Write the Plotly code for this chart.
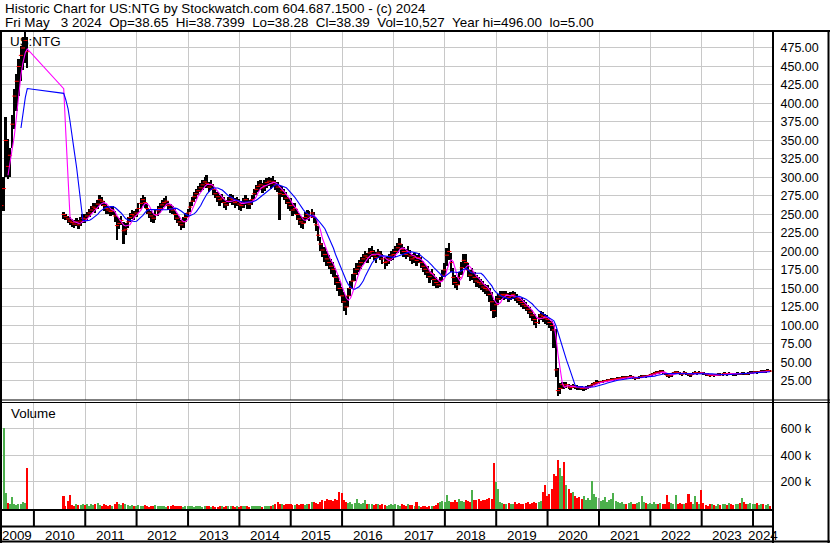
import pandas as pd
import plotly.graph_objects as go

# ---------------- text ----------------
title_line1 = "Historic Chart for US:NTG by Stockwatch.com 604.687.1500 - (c) 2024"
title_fields = ["Fri May   3 2024", "Op=38.65", "Hi=38.7399", "Lo=38.28", "Cl=38.39",
                "Vol=10,527", "Year hi=496.00", "lo=5.00"]
symbol_label = "US:NTG"
volume_label = "Volume"

# ---------------- data (semi-monthly bars) ----------------
seg1_dates = pd.date_range("2009-05-15", "2009-11-15", freq="SMS")
seg2_dates = pd.date_range("2010-08-01", "2024-05-01", freq="SMS")
dates = seg1_dates.append(seg2_dates)

close = [
    262, 285, 350, 315, 330, 372, 410, 430, 450, 465, 475, 485, 470,  # 2009
    250, 247, 244, 241, 239, 237, 240, 236, 241, 245,  # 2010
    244, 248, 252, 256, 260, 258, 264, 270, 268, 262, 258, 256, 254, 256, 248, 235, 238, 242, 228, 230, 240, 246, 250, 248,  # 2011
    252, 258, 265, 270, 266, 258, 252, 248, 245, 250, 255, 258, 263, 266, 268, 262, 258, 256, 250, 245, 240, 236, 240, 246,  # 2012
    252, 260, 268, 274, 278, 282, 286, 290, 294, 292, 287, 290, 284, 278, 274, 270, 272, 266, 263, 268, 272, 270, 266, 268,  # 2013
    264, 262, 266, 270, 266, 264, 270, 278, 284, 288, 290, 286, 289, 293, 295, 292, 294, 290, 287, 278, 282, 277, 272, 266,  # 2014
    262, 256, 258, 250, 244, 240, 238, 246, 250, 248, 252, 246, 236, 222, 210, 202, 196, 190, 185, 180, 176, 165, 158, 150,  # 2015
    140, 132, 125, 140, 150, 160, 170, 176, 180, 185, 190, 194, 192, 198, 200, 195, 192, 198, 195, 190, 185, 186, 190, 194,  # 2016
    196, 200, 205, 210, 203, 200, 196, 200, 194, 190, 192, 188, 192, 185, 180, 176, 172, 166, 170, 162, 158, 155, 160, 168,  # 2017
    175, 195, 200, 185, 165, 158, 155, 165, 178, 188, 185, 175, 168, 172, 165, 160, 158, 156, 152, 150, 148, 142, 132, 120,  # 2018
    128, 136, 140, 142, 140, 142, 138, 140, 142, 139, 136, 134, 131, 128, 126, 122, 118, 114, 108, 104, 110, 114, 112, 110,  # 2019
    108, 104, 100, 94, 40, 12, 15, 20, 18, 20, 17, 16, 18, 17, 16.5, 16, 15, 15.5, 16, 16.5, 18, 20, 22, 23,  # 2020
    23.0, 23.8, 24.3, 25.1, 25.8, 26.3, 26.9, 27.4, 27.9, 28.4, 28.9, 29.3, 30.1, 29.2, 30.2, 30.8, 30.1, 28.4, 29.1, 29.9, 30.8, 31.7, 31.0, 31.9,  # 2021
    33.1, 34.2, 35.3, 36.8, 35.9, 38.2, 37.1, 35.2, 32.8, 31.9, 33.2, 35.8, 37.0, 36.1, 35.0, 34.1, 35.9, 35.2, 34.3, 33.1, 34.8, 36.2, 35.3, 36.0,  # 2022
    35.8, 35.1, 34.2, 33.3, 32.2, 33.1, 32.4, 33.2, 34.1, 33.3, 34.2, 35.1, 34.3, 35.2, 34.4, 33.6, 34.3, 35.1, 34.4, 35.3, 35.0, 34.5, 35.2, 36.1,  # 2023
    36.4, 37.2, 36.5, 37.3, 38.1, 37.4, 38.2, 39.0, 38.39,  # 2024
]
high = [
    292, 300, 382, 352, 340, 385, 420, 440, 460, 478, 490, 496, 490,
    253, 251, 248, 246, 244, 243, 245, 242, 246, 250,
    250, 254, 258, 262, 266, 265, 270, 276, 274, 268, 264, 262, 260, 262, 255, 248, 245, 248, 240, 238, 246, 252, 256, 255,
    258, 265, 272, 276, 273, 265, 258, 255, 252, 256, 261, 265, 269, 272, 275, 268, 264, 262, 257, 252, 248, 243, 246, 252,
    258, 267, 274, 280, 284, 288, 292, 296, 300, 303, 294, 296, 291, 285, 280, 276, 278, 273, 270, 274, 278, 277, 272, 274,
    271, 268, 272, 276, 272, 270, 276, 284, 290, 295, 297, 293, 296, 299, 301, 299, 302, 297, 294, 290, 289, 285, 280, 274,
    272, 265, 266, 258, 252, 248, 246, 254, 256, 255, 258, 253, 245, 235, 220, 212, 206, 200, 195, 190, 186, 178, 168, 160,
    152, 145, 140, 150, 160, 170, 178, 185, 188, 192, 196, 200, 198, 205, 208, 202, 199, 204, 201, 197, 192, 192, 196, 200,
    203, 207, 212, 218, 210, 206, 203, 207, 202, 197, 198, 195, 198, 192, 187, 183, 180, 174, 177, 170, 166, 162, 166, 175,
    185, 205, 211, 198, 178, 168, 165, 172, 186, 196, 197, 184, 175, 178, 172, 168, 165, 163, 160, 156, 155, 150, 145, 135,
    140, 142, 146, 147, 146, 147, 144, 145, 147, 145, 142, 140, 137, 134, 132, 128, 125, 121, 116, 110, 116, 120, 118, 116,
    114, 110, 106, 100, 95, 42, 22, 24, 23, 23, 21, 19, 21, 20, 19, 18, 18, 17, 18, 19, 20, 22, 24, 26,
    25.1, 25.6, 26.0, 26.9, 27.6, 28.1, 28.6, 29.2, 29.7, 30.2, 30.7, 31.1, 31.9, 31.4, 32.0, 32.6, 32.1, 30.6, 30.9, 31.7, 32.6, 33.5, 33.0, 33.7,
    35.0, 36.1, 37.2, 38.9, 38.0, 40.5, 39.2, 37.3, 35.0, 34.0, 35.2, 37.8, 39.0, 38.2, 37.1, 36.1, 37.9, 37.2, 36.4, 35.1, 36.8, 38.2, 37.3, 38.0,
    37.6, 37.0, 36.1, 35.2, 34.2, 35.0, 34.3, 35.1, 36.0, 35.2, 36.1, 37.0, 36.2, 37.1, 36.3, 35.5, 36.2, 37.0, 36.3, 37.2, 36.9, 36.4, 37.1, 38.0,
    38.2, 39.0, 38.3, 39.1, 40.0, 39.2, 40.0, 40.8, 38.74,
]
low = [
    245, 255, 300, 298, 300, 340, 365, 390, 410, 430, 445, 455, 448,
    244, 242, 238, 236, 233, 232, 234, 230, 235, 239,
    238, 242, 246, 250, 253, 252, 257, 263, 262, 255, 251, 250, 248, 249, 240, 215, 230, 236, 210, 222, 232, 240, 244, 242,
    246, 252, 258, 262, 259, 250, 245, 240, 238, 243, 248, 252, 256, 260, 262, 256, 252, 250, 243, 238, 234, 229, 232, 240,
    246, 254, 262, 267, 271, 276, 280, 283, 287, 286, 280, 283, 277, 272, 267, 262, 265, 259, 256, 261, 265, 263, 259, 261,
    256, 255, 259, 263, 258, 257, 263, 271, 277, 281, 283, 279, 282, 286, 288, 285, 287, 283, 280, 243, 274, 270, 264, 258,
    255, 248, 250, 242, 236, 232, 231, 238, 243, 241, 245, 238, 228, 214, 200, 192, 186, 180, 176, 170, 165, 155, 146, 140,
    130, 120, 114, 125, 140, 150, 160, 168, 172, 177, 182, 186, 185, 190, 193, 188, 185, 191, 188, 183, 176, 180, 183, 187,
    189, 193, 198, 202, 196, 192, 190, 193, 187, 183, 185, 181, 184, 178, 172, 168, 164, 158, 162, 154, 150, 150, 152, 160,
    165, 180, 188, 172, 155, 150, 148, 155, 168, 178, 175, 165, 160, 162, 158, 152, 150, 148, 145, 142, 140, 132, 120, 110,
    112, 128, 134, 136, 134, 136, 132, 134, 136, 133, 130, 128, 125, 122, 120, 115, 110, 106, 100, 97, 102, 108, 105, 102,
    100, 96, 92, 70, 30, 5, 8, 14, 14, 16, 14, 13, 15, 14, 13, 13, 13, 12, 13, 14, 15, 17, 19, 21,
    21.2, 22.0, 22.5, 23.3, 24.0, 24.5, 25.1, 25.6, 26.1, 26.6, 27.1, 27.5, 28.2, 27.2, 28.4, 29.0, 28.2, 26.4, 27.3, 28.1, 29.0, 29.9, 29.0, 30.1,
    31.2, 32.3, 33.3, 34.6, 33.9, 35.8, 35.0, 33.1, 30.0, 29.5, 31.0, 33.8, 35.0, 34.0, 33.0, 32.0, 33.8, 33.2, 32.2, 31.0, 32.8, 34.2, 33.2, 34.0,
    34.0, 33.2, 32.3, 31.3, 30.3, 31.1, 30.5, 31.3, 32.2, 31.4, 32.3, 33.2, 32.4, 33.3, 32.5, 31.7, 32.4, 33.2, 32.5, 33.4, 33.1, 32.6, 33.3, 34.2,
    34.5, 35.3, 34.6, 35.4, 36.2, 35.5, 36.3, 37.1, 38.28,
]
volume_k = [
    67, 610, 120, 45, 40, 90, 35, 30, 40, 35, 50, 45, 310,
    97, 22, 60, 104, 30, 25, 35, 30, 28, 35,
    30, 35, 25, 40, 30, 35, 45, 30, 25, 35, 30, 25, 30, 20, 35, 50, 40, 30, 45, 35, 30, 25, 30, 20,
    25, 30, 20, 25, 30, 20, 15, 25, 20, 30, 25, 20, 25, 20, 18, 25, 20, 30, 25, 20, 25, 22, 18, 20,
    20, 25, 22, 18, 25, 20, 22, 18, 20, 25, 22, 18, 20, 15, 18, 20, 22, 18, 20, 25, 22, 20, 18, 20,
    18, 20, 22, 25, 20, 18, 22, 20, 25, 22, 20, 18, 25, 20, 22, 25, 30, 35, 52, 35, 40, 30, 35, 40,
    35, 30, 28, 35, 30, 40, 35, 30, 40, 35, 50, 55, 45, 40, 55, 70, 60, 75, 70, 65, 60, 75, 65, 125,
    120, 65, 55, 45, 50, 40, 45, 75, 45, 40, 45, 67, 40, 35, 40, 30, 35, 40, 30, 35, 30, 25, 30, 35,
    30, 35, 30, 25, 35, 30, 25, 35, 30, 30, 25, 52, 20, 15, 20, 25, 15, 20, 25, 20, 30, 45, 50, 60,
    55, 107, 60, 55, 50, 65, 55, 77, 60, 55, 65, 60, 55, 140, 70, 65, 75, 60, 65, 70, 75, 80, 75, 345,
    200, 150, 50, 45, 40, 35, 45, 40, 35, 50, 40, 45, 35, 40, 45, 50, 40, 45, 50, 45, 55, 60, 130, 180,
    100, 110, 150, 265, 245, 370, 310, 250, 355, 180, 150, 120, 125, 100, 80, 90, 75, 100, 70, 80, 65, 210, 110, 90,
    80, 60, 70, 90, 55, 65, 75, 120, 60, 50, 45, 55, 40, 35, 45, 50, 40, 35, 45, 55, 97, 50, 45, 40,
    45, 40, 50, 35, 40, 45, 35, 40, 105, 50, 45, 35, 105, 40, 45, 35, 40, 45, 110, 50, 40, 100, 50, 40,
    140, 45, 30, 25, 35, 40, 30, 25, 35, 30, 40, 35, 30, 45, 35, 30, 40, 35, 45, 82, 50, 40, 35, 45,
    40, 35, 45, 30, 40, 35, 30, 35, 25,
]

price_ticks = [25, 50, 75, 100, 125, 150, 175, 200, 225, 250, 275, 300, 325, 350,
               375, 400, 425, 450, 475]
volume_ticks = [200, 400, 600]
volume_tick_text = ["200 k", "400 k", "600 k"]
years = list(range(2009, 2025))

n = len(dates)
for name, arr in (("close", close), ("high", high), ("low", low), ("volume", volume_k)):
    if len(arr) != n:
        raise ValueError(f"{name} has {len(arr)} values, expected {n}")

# ---------------- derived series ----------------
cs = pd.Series(close, dtype=float)
ma_short = cs.rolling(4).mean()
ma_long = cs.rolling(10).mean()
bar_len = [h - l for h, l in zip(high, low)]

GREEN, RED, GRAY = "#4cb04c", "#ff0000", "#a0a0a0"
vol_colors = [RED]
for i in range(1, n):
    if close[i] > close[i - 1]:
        vol_colors.append(GREEN)
    elif close[i] < close[i - 1]:
        vol_colors.append(RED)
    else:
        vol_colors.append(GRAY)

# ---------------- geometry helpers ----------------
W, H = 830, 543
LM, RM, TM, BM = 1, 57, 32, 33
PW, PH = W - LM - RM, H - TM - BM


def fx(px):
    return (px - LM) / PW


def fy(py):
    return (H - BM - py) / PH


FONT = "Liberation Sans, Arial, sans-serif"
GRID = "#c8c8c8"
DAY = 86400000
NB = "\u00a0"

x_start = pd.Timestamp("2009-05-12")
x_end = pd.Timestamp("2024-05-22")
year_starts = [pd.Timestamp(f"{y}-01-01") for y in years[1:]]

fig = go.Figure()
fig.add_trace(go.Bar(x=dates, y=bar_len, base=low, width=13 * DAY,
                     marker=dict(color="black", line=dict(width=0)),
                     xaxis="x", yaxis="y", hoverinfo="skip"))
fig.add_trace(go.Scatter(x=dates, y=close, mode="markers",
                         marker=dict(symbol="line-ew", size=3,
                                     line=dict(color="red", width=1)),
                         xaxis="x", yaxis="y", hoverinfo="skip"))
fig.add_trace(go.Scatter(x=dates, y=ma_short, mode="lines",
                         line=dict(color="#ff00ff", width=1.1),
                         xaxis="x", yaxis="y"))
fig.add_trace(go.Scatter(x=dates, y=ma_long, mode="lines",
                         line=dict(color="#0000ff", width=1.1),
                         xaxis="x", yaxis="y"))
fig.add_trace(go.Bar(x=dates, y=volume_k, width=11 * DAY,
                     marker=dict(color=vol_colors, line=dict(width=0)),
                     xaxis="x2", yaxis="y2", hoverinfo="skip"))

xcommon = dict(type="date", range=[x_start, x_end], showgrid=True, gridcolor=GRID,
               gridwidth=1, tickvals=year_starts, showticklabels=False, ticks="",
               zeroline=False, showline=False, fixedrange=True)
ycommon = dict(side="right", showgrid=True, gridcolor=GRID, gridwidth=1,
               zeroline=False, showline=False, ticks="outside", ticklen=4,
               tickcolor="rgba(0,0,0,0)", fixedrange=True,
               tickfont=dict(family=FONT, size=12.5, color="black"))

fig.update_layout(
    width=W, height=H,
    margin=dict(l=LM, r=RM, t=TM, b=BM, pad=0),
    paper_bgcolor="white", plot_bgcolor="white",
    showlegend=False, barmode="overlay", bargap=0,
    font=dict(family=FONT, size=13, color="black"),
    xaxis=dict(**xcommon, domain=[0, 1], anchor="y"),
    xaxis2=dict(**xcommon, domain=[0, 1], anchor="y2", matches="x"),
    yaxis=dict(**ycommon, domain=[fy(400), 1], anchor="x", range=[-0.7, 496.6],
               tickvals=price_ticks, ticktext=[f"{v:.2f}" for v in price_ticks]),
    yaxis2=dict(**ycommon, domain=[0, fy(402.5)], anchor="x2", range=[-12, 800],
                tickvals=volume_ticks, ticktext=volume_tick_text),
)

# ---------------- frame lines ----------------
shapes = []


def hline(py, px0, px1, w):
    shapes.append(dict(type="line", xref="paper", yref="paper", x0=fx(px0), x1=fx(px1),
                       y0=fy(py), y1=fy(py), line=dict(color="black", width=w)))


def vline(px, py0, py1, w):
    shapes.append(dict(type="line", xref="paper", yref="paper", x0=fx(px), x1=fx(px),
                       y0=fy(py0), y1=fy(py1), line=dict(color="black", width=w)))


hline(31, 0, 830, 2)
hline(400, 0, 830, 1.2)
hline(402.5, 0, 830, 1.2)
hline(510, 0, 773, 2)
hline(526.5, 0, 773, 2)
hline(541.5, 0, 830, 2)
vline(1, 31, 543, 2)
vline(773, 31, 543, 2)
vline(828.5, 31, 543, 2)
for ys in year_starts:
    shapes.append(dict(type="line", xref="x", yref="paper", x0=ys, x1=ys,
                       y0=fy(510), y1=fy(526.5), line=dict(color="black", width=2)))
fig.update_layout(shapes=shapes)

# ---------------- text ----------------
title_line2 = (NB * 2).join(f.replace(" ", NB) for f in title_fields)
ann = [
    dict(text=title_line1, x=fx(3), y=fy(8)),
    dict(text=title_line2, x=fx(3), y=fy(22)),
    dict(text=symbol_label, x=fx(8), y=fy(41)),
    dict(text=volume_label, x=fx(9), y=fy(413)),
]
annotations = []
for a in ann:
    annotations.append(dict(xref="paper", yref="paper", xanchor="left", yanchor="middle",
                            showarrow=False, font=dict(family=FONT, size=13.4, color="black"), **a))
for y in years:
    a = max(pd.Timestamp(f"{y}-01-01"), x_start)
    b = min(pd.Timestamp(f"{y + 1}-01-01"), x_end)
    mid = a + (b - a) / 2
    annotations.append(dict(xref="x", yref="paper", x=mid, y=fy(535), text=str(y),
                            xanchor="center", yanchor="middle", showarrow=False,
                            font=dict(family=FONT, size=13.4, color="black")))
fig.update_layout(annotations=annotations)

fig.write_html("out.html", config={"displayModeBar": False},
               post_script="document.body.style.margin='0px';document.body.style.padding='0px';")
